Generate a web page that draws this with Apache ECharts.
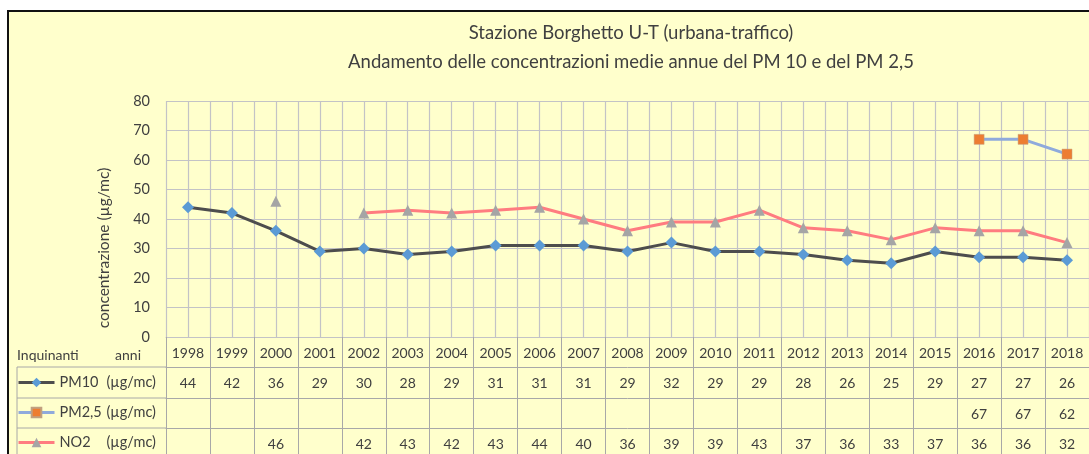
<!DOCTYPE html>
<html><head><meta charset="utf-8">
<script src="https://cdn.jsdelivr.net/npm/echarts@6/dist/echarts.min.js"></script>
<style>html,body{margin:0;padding:0;background:#fff}#c{width:1089px;height:454px}</style>
</head><body><div id="c"></div>
<script>
const years = ['1998','1999','2000','2001','2002','2003','2004','2005','2006','2007','2008','2009','2010','2011','2012','2013','2014','2015','2016','2017','2018'];
const pm10 = [44,42,36,29,30,28,29,31,31,31,29,32,29,29,28,26,25,29,27,27,26];
const pm25 = [null,null,null,null,null,null,null,null,null,null,null,null,null,null,null,null,null,null,67,67,62];
const no2 = [null,null,46,null,42,43,42,43,44,40,36,39,39,43,37,36,33,37,36,36,32];
const yTicks = [0,10,20,30,40,50,60,70,80];
const seriesNames = ['PM10','PM2,5','NO2'];
const titleLines = ['Stazione Borghetto U-T (urbana-traffico)','Andamento delle concentrazioni medie annue del PM 10 e del PM 2,5'];
const yName = 'concentrazione (µg/mc)';
const unit = '(µg/mc)';

const FONT = 'Lato, "Liberation Sans", sans-serif';
const TXT = '#404040';
const GRID = '#C3C3C6';
const TAB = '#A8A8A8';
const toLab = a => a.map(v => v == null ? '' : String(v));

const G = {left:166, top:101, width:934, height:236};
const rowTops = [337, 367, 398, 428, 459];

function tableAxis(data, idx) {
  const off = rowTops[idx] - rowTops[0];
  const h = rowTops[idx+1] - rowTops[idx];
  return {
    type:'category', data:data, position:'bottom', offset:off, gridIndex:0,
    boundaryGap:true,
    axisLine:{show:true, lineStyle:{color:idx===0?GRID:TAB, width:1}},
    axisTick:{show:true, length:h, lineStyle:{color:TAB, width:1}},
    axisLabel:{interval:0, margin:h/2+1, verticalAlign:'middle', color:TXT, fontSize:14, fontFamily:FONT},
    splitLine:{show:false}
  };
}

const chart = echarts.init(document.getElementById('c'), null, {renderer:'canvas'});
const legendRich = {
  n:{width:47, fontSize:14.5, fontFamily:FONT, color:TXT},
  u:{fontSize:14.5, fontFamily:FONT, color:TXT}
};
function mkLegend(name, center) {
  return {
    data:[name], left:17, top:center-8, orient:'horizontal', selectedMode:false,
    itemWidth:36, itemHeight:12, padding:0,
    lineStyle:{width:3},
    formatter: n => '{n|'+n+'}{u|'+unit+'}',
    textStyle:{rich:legendRich, fontSize:14.5, fontFamily:FONT, color:TXT}
  };
}

chart.setOption({
  backgroundColor:'#ffffff',
  animation:false,
  graphic:[
    {type:'rect', z:-100, silent:true, shape:{x:8, y:11, width:1200, height:500}, style:{fill:'#FFFFCC', stroke:'#111', lineWidth:2}},
    {type:'text', x:631, y:33, style:{text:titleLines[0], align:'center', verticalAlign:'middle', font:'18.5px '+FONT, fill:TXT}},
    {type:'text', x:631, y:62, style:{text:titleLines[1], align:'center', verticalAlign:'middle', font:'18.5px '+FONT, fill:TXT}},
    {type:'text', x:104, y:248, rotation:Math.PI/2, style:{text:yName, align:'center', verticalAlign:'middle', font:'15.5px '+FONT, fill:TXT}},
    {type:'text', x:17, y:355, style:{text:'Inquinanti', align:'left', verticalAlign:'middle', font:'14px '+FONT, fill:TXT}},
    {type:'text', x:141, y:355, style:{text:'anni', align:'right', verticalAlign:'middle', font:'14px '+FONT, fill:TXT}},
    {type:'line', shape:{x1:17, y1:367, x2:166, y2:367}, style:{stroke:TAB, lineWidth:1}},
    {type:'line', shape:{x1:17, y1:398, x2:166, y2:398}, style:{stroke:TAB, lineWidth:1}},
    {type:'line', shape:{x1:17, y1:428, x2:166, y2:428}, style:{stroke:TAB, lineWidth:1}},
    {type:'line', shape:{x1:17, y1:367, x2:17, y2:460}, style:{stroke:TAB, lineWidth:1}}
  ],
  legend:[mkLegend(seriesNames[0],383), mkLegend(seriesNames[1],413), mkLegend(seriesNames[2],443)],
  grid:{left:G.left, top:G.top, width:G.width, height:G.height, containLabel:false},
  xAxis:[
    tableAxis(years,0),
    tableAxis(toLab(pm10),1),
    tableAxis(toLab(pm25),2),
    tableAxis(toLab(no2),3),
    {type:'value', position:'top', min:0, max:years.length*2, interval:1,
     axisLine:{show:false}, axisTick:{show:false}, axisLabel:{show:false},
     splitLine:{show:true, lineStyle:{color:GRID, width:1.2}}}
  ],
  yAxis:{type:'value', min:yTicks[0], max:yTicks[yTicks.length-1], interval:yTicks[1]-yTicks[0],
    axisLine:{show:false}, axisTick:{show:false},
    axisLabel:{margin:16, color:TXT, fontSize:14.5, fontFamily:FONT},
    splitLine:{show:true, lineStyle:{color:GRID, width:1.2}}},
  series:[
    {name:seriesNames[0], type:'line', xAxisIndex:0, data:pm10, symbol:'diamond', symbolSize:12,
     lineStyle:{color:'#4D4D4D', width:3}, itemStyle:{color:'#5B9BD5', borderWidth:0}, connectNulls:false, z:3},
    {name:seriesNames[1], type:'line', xAxisIndex:0, data:pm25, symbol:'rect', symbolSize:10,
     lineStyle:{color:'#8FAADC', width:3}, itemStyle:{color:'#ED7D31', borderColor:'#C0A080', borderWidth:0.5}, connectNulls:false, z:3},
    {name:seriesNames[2], type:'line', xAxisIndex:0, data:no2, symbol:'triangle', symbolSize:11,
     lineStyle:{color:'#FF7C80', width:3}, itemStyle:{color:'#A5A5A5', borderWidth:0}, connectNulls:false, z:3}
  ]
});
</script></body></html>
